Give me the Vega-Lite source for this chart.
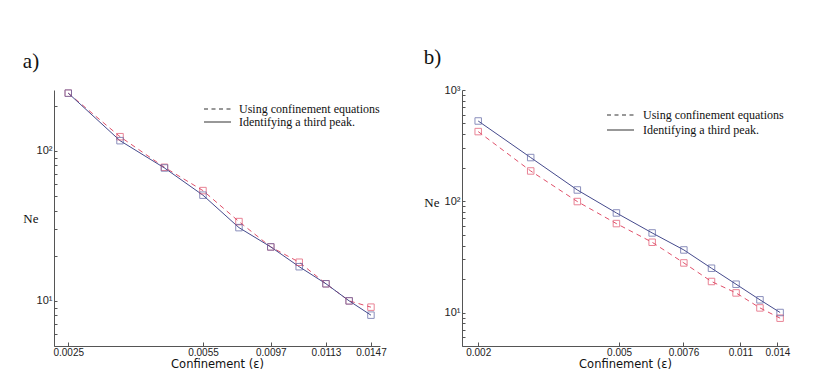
{
  "$schema": "https://vega.github.io/schema/vega-lite/v6.json",
  "background": "white",
  "padding": {"left": 22, "top": 47, "right": 5, "bottom": 5},
  "spacing": 36,
  "config": {
    "view": {"stroke": null},
    "axis": {
      "grid": false,
      "domainColor": "#555",
      "tickColor": "#555",
      "labelColor": "#222",
      "labelFont": "Liberation Sans",
      "labelFontSize": 10,
      "titleColor": "#111",
      "titleFontWeight": "normal"
    },
    "title": {"font": "Liberation Serif", "fontSize": 21, "fontWeight": "normal", "anchor": "start", "color": "#111", "offset": 16},
    "legend": {"labelFont": "Liberation Serif", "labelFontSize": 12, "labelColor": "#111"}
  },
  "datasets": {
    "a": [
      {"eps": 0.0025, "ne": 243, "method": "Using confinement equations"},
      {"eps": 0.003385, "ne": 124.5, "method": "Using confinement equations"},
      {"eps": 0.00439, "ne": 77.8, "method": "Using confinement equations"},
      {"eps": 0.0055, "ne": 54.4, "method": "Using confinement equations"},
      {"eps": 0.00679, "ne": 33.8, "method": "Using confinement equations"},
      {"eps": 0.00818, "ne": 22.9, "method": "Using confinement equations"},
      {"eps": 0.00966, "ne": 18.1, "method": "Using confinement equations"},
      {"eps": 0.0113, "ne": 13.0, "method": "Using confinement equations"},
      {"eps": 0.01294, "ne": 10.0, "method": "Using confinement equations"},
      {"eps": 0.0147, "ne": 9.08, "method": "Using confinement equations"},
      {"eps": 0.0025, "ne": 243, "method": "Identifying a third peak."},
      {"eps": 0.003385, "ne": 117.1, "method": "Identifying a third peak."},
      {"eps": 0.00439, "ne": 77.0, "method": "Identifying a third peak."},
      {"eps": 0.0055, "ne": 50.7, "method": "Identifying a third peak."},
      {"eps": 0.00679, "ne": 30.8, "method": "Identifying a third peak."},
      {"eps": 0.00818, "ne": 22.9, "method": "Identifying a third peak."},
      {"eps": 0.00966, "ne": 16.9, "method": "Identifying a third peak."},
      {"eps": 0.0113, "ne": 13.0, "method": "Identifying a third peak."},
      {"eps": 0.01294, "ne": 10.0, "method": "Identifying a third peak."},
      {"eps": 0.0147, "ne": 8.03, "method": "Identifying a third peak."}
    ],
    "b": [
      {"eps": 0.002, "ne": 422.8, "method": "Using confinement equations"},
      {"eps": 0.002814, "ne": 187.2, "method": "Using confinement equations"},
      {"eps": 0.003811, "ne": 99.4, "method": "Using confinement equations"},
      {"eps": 0.004914, "ne": 63.0, "method": "Using confinement equations"},
      {"eps": 0.0062, "ne": 42.8, "method": "Using confinement equations"},
      {"eps": 0.00762, "ne": 27.9, "method": "Using confinement equations"},
      {"eps": 0.00912, "ne": 19.0, "method": "Using confinement equations"},
      {"eps": 0.0107, "ne": 15.0, "method": "Using confinement equations"},
      {"eps": 0.0125, "ne": 11.0, "method": "Using confinement equations"},
      {"eps": 0.01425, "ne": 8.89, "method": "Using confinement equations"},
      {"eps": 0.002, "ne": 526.6, "method": "Identifying a third peak."},
      {"eps": 0.002814, "ne": 247, "method": "Identifying a third peak."},
      {"eps": 0.003811, "ne": 126.3, "method": "Identifying a third peak."},
      {"eps": 0.004914, "ne": 78.5, "method": "Identifying a third peak."},
      {"eps": 0.0062, "ne": 51.9, "method": "Identifying a third peak."},
      {"eps": 0.00762, "ne": 36.5, "method": "Identifying a third peak."},
      {"eps": 0.00912, "ne": 25.0, "method": "Identifying a third peak."},
      {"eps": 0.0107, "ne": 17.96, "method": "Identifying a third peak."},
      {"eps": 0.0125, "ne": 13.0, "method": "Identifying a third peak."},
      {"eps": 0.01425, "ne": 10.0, "method": "Identifying a third peak."}
    ]
  },
  "hconcat": [
    {
      "title": "a)",
      "width": 326,
      "height": 256,
      "data": {"name": "a"},
      "encoding": {
        "x": {
          "field": "eps", "type": "quantitative",
          "scale": {"type": "log", "domain": [0.0023, 0.0155], "nice": false},
          "axis": {
            "title": "Confinement (ε)", "titleFont": "DejaVu Sans", "titleFontSize": 11.5, "titlePadding": 1,
            "values": [0.0025, 0.0055, 0.00818, 0.0113, 0.0147],
            "labelExpr": "datum.value == 0.00818 ? '0.0097' : format(datum.value, '.4f')",
            "tickSize": -4, "labelPadding": 5, "labelOverlap": false, "labelFlush": false
          }
        },
        "y": {
          "field": "ne", "type": "quantitative",
          "scale": {"type": "log", "domain": [5, 255], "nice": false},
          "axis": {
            "title": "Ne", "titleFont": "Liberation Serif", "titleFontSize": 13, "titleAngle": 0,
            "titleAlign": "right", "titleBaseline": "middle", "titleX": -16, "titleY": 128,
            "values": [5, 6, 7, 8, 9, 10, 20, 30, 40, 50, 60, 70, 80, 90, 100, 200],
            "labelExpr": "datum.value == 10 ? '10¹' : datum.value == 100 ? '10²' : datum.value == 1000 ? '10³' : ''",
            "labelFontSize": 11, "tickSize": -3, "labelPadding": 5, "labelOverlap": false
          }
        }
      },
      "layer": [
        {
          "transform": [{"filter": "datum.ne < 0"}],
          "mark": {"type": "line", "strokeWidth": 1.2, "color": "#333333"},
          "encoding": {
            "strokeDash": {
              "field": "method", "type": "nominal",
              "scale": {"domain": ["Using confinement equations", "Identifying a third peak."], "range": [[4, 3.5], [1, 0]]},
              "legend": {
                "title": null, "orient": "none", "legendX": 156.5, "legendY": 12, "padding": 0,
                "symbolType": "M-2.25,0H2.25", "symbolSize": 144, "symbolStrokeWidth": 1.2,
                "labelOffset": 14.5, "rowPadding": 0
              }
            }
          }
        },
        {
          "transform": [{"filter": "datum.method == 'Using confinement equations'"}],
          "mark": {"type": "line", "strokeWidth": 1, "color": "#e0506a", "strokeDash": [5, 4]}
        },
        {
          "transform": [{"filter": "datum.method == 'Identifying a third peak.'"}],
          "mark": {"type": "line", "strokeWidth": 1, "color": "#454a8c"}
        },
        {
          "transform": [{"filter": "datum.method == 'Using confinement equations'"}],
          "mark": {"type": "point", "shape": "square", "filled": false, "size": 42, "strokeWidth": 1, "color": "#e0506a"}
        },
        {
          "transform": [{"filter": "datum.method == 'Identifying a third peak.'"}],
          "mark": {"type": "point", "shape": "square", "filled": false, "size": 42, "strokeWidth": 1, "color": "#5a60a0"}
        }
      ]
    },
    {
      "title": "b)",
      "width": 326,
      "height": 256,
      "data": {"name": "b"},
      "encoding": {
        "x": {
          "field": "eps", "type": "quantitative",
          "scale": {"type": "log", "domain": [0.0018, 0.015], "nice": false},
          "axis": {
            "title": "Confinement (ε)", "titleFont": "DejaVu Sans", "titleFontSize": 11.5, "titlePadding": 1,
            "values": [0.002, 0.005, 0.0076, 0.011, 0.014],
            "labelExpr": "format(datum.value, '~g')",
            "tickSize": -4, "labelPadding": 5, "labelOverlap": false, "labelFlush": false
          }
        },
        "y": {
          "field": "ne", "type": "quantitative",
          "scale": {"type": "log", "domain": [5, 1000], "nice": false},
          "axis": {
            "title": "Ne", "titleFont": "Liberation Serif", "titleFontSize": 13, "titleAngle": 0,
            "titleAlign": "right", "titleBaseline": "middle", "titleX": -23, "titleY": 112,
            "values": [5, 6, 7, 8, 9, 10, 20, 30, 40, 50, 60, 70, 80, 90, 100, 200, 300, 400, 500, 600, 700, 800, 900, 1000],
            "labelExpr": "datum.value == 10 ? '10¹' : datum.value == 100 ? '10²' : datum.value == 1000 ? '10³' : ''",
            "labelFontSize": 11, "tickSize": -3, "labelPadding": 5, "labelOverlap": false
          }
        }
      },
      "layer": [
        {
          "transform": [{"filter": "datum.ne < 0"}],
          "mark": {"type": "line", "strokeWidth": 1.2, "color": "#333333"},
          "encoding": {
            "strokeDash": {
              "field": "method", "type": "nominal",
              "scale": {"domain": ["Using confinement equations", "Identifying a third peak."], "range": [[4, 3.5], [1, 0]]},
              "legend": {
                "title": null, "orient": "none", "legendX": 151.5, "legendY": 18, "padding": 0,
                "symbolType": "M-2.25,0H2.25", "symbolSize": 144, "symbolStrokeWidth": 1.2,
                "labelOffset": 15.5, "rowPadding": 2
              }
            }
          }
        },
        {
          "transform": [{"filter": "datum.method == 'Using confinement equations'"}],
          "mark": {"type": "line", "strokeWidth": 1, "color": "#e0506a", "strokeDash": [5, 4]}
        },
        {
          "transform": [{"filter": "datum.method == 'Identifying a third peak.'"}],
          "mark": {"type": "line", "strokeWidth": 1, "color": "#454a8c"}
        },
        {
          "transform": [{"filter": "datum.method == 'Using confinement equations'"}],
          "mark": {"type": "point", "shape": "square", "filled": false, "size": 42, "strokeWidth": 1, "color": "#e0506a"}
        },
        {
          "transform": [{"filter": "datum.method == 'Identifying a third peak.'"}],
          "mark": {"type": "point", "shape": "square", "filled": false, "size": 42, "strokeWidth": 1, "color": "#5a60a0"}
        }
      ]
    }
  ],
  "resolve": {"scale": {"x": "independent", "y": "independent", "strokeDash": "independent"}, "legend": {"strokeDash": "independent"}}
}
